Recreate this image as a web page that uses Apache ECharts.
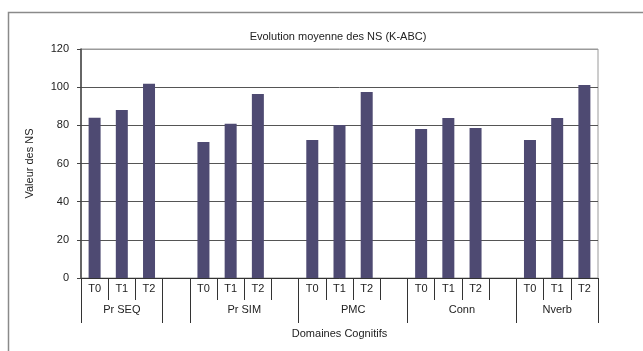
<!DOCTYPE html>
<html>
<head>
<meta charset="utf-8">
<script src="https://cdn.jsdelivr.net/npm/echarts@6/dist/echarts.min.js"></script>
<style>
  html, body { margin: 0; padding: 0; background: #fff; }
  #chart { width: 643px; height: 351px; }
</style>
</head>
<body>
<div id="chart"></div>
<script>
// Domains (outer level) and time points (inner level)
const domains = ['Pr SEQ', 'Pr SIM', 'PMC', 'Conn', 'Nverb'];
const timePoints = ['T0', 'T1', 'T2'];

// Mean NS per domain at T0, T1, T2
const prSeq = [84, 88, 101.8];
const prSim = [71.3, 80.8, 96.4];
const pmc   = [72.3, 80.2, 97.5];
const conn  = [78.1, 83.9, 78.6];
const nverb = [72.3, 83.9, 101.2];

const yTicks = [0, 20, 40, 60, 80, 100, 120];

// Slot layout of the inner axis: each domain gets T0,T1,T2, with a blank slot between groups
const groupSlots = [3, 1, 4, 4, 4, 3];           // widths of outer groups in slots
const groupNames = ['Pr SEQ', '', 'Pr SIM', 'PMC', 'Conn', 'Nverb'];
const domainValues = [prSeq, prSim, pmc, conn, nverb];

const innerCats = [];
const barData = [];
domainValues.forEach((vals, d) => {
  if (d === 1) { innerCats.push(''); barData.push('-'); }
  vals.forEach((v, i) => { innerCats.push(timePoints[i]); barData.push(v); });
  if (d >= 1 && d <= 3) { innerCats.push(''); barData.push('-'); }
});
// innerCats: T0 T1 T2 | '' | T0 T1 T2 '' | T0 T1 T2 '' | T0 T1 T2 '' | T0 T1 T2
const nSlots = innerCats.length;

// Outer axis on half-slot positions (boundaryGap false): labels at group centres, ticks at group edges
const outerCats = new Array(nSlots * 2 + 1).fill('');
const outerTickIdx = new Set([0]);
let pos = 0;
groupSlots.forEach((w, g) => {
  outerCats[pos * 2 + w] = groupNames[g];
  pos += w;
  outerTickIdx.add(pos * 2);
});
const outerLabelIdx = new Set();
outerCats.forEach((c, i) => { if (c) outerLabelIdx.add(i); });

// Gridlines dark, except the top one which belongs to the grey plot frame
const gridColors = yTicks.map((t, i) => (i === yTicks.length - 1 ? '#9a9a9a' : '#555'));

const chart = echarts.init(document.getElementById('chart'), null, { renderer: 'canvas' });
const textStyle = { fontFamily: 'Liberation Sans, Arial, sans-serif', color: '#222', fontSize: 11 };

chart.setOption({
  animation: false,
  textStyle: textStyle,
  title: {
    text: 'Evolution moyenne des NS (K-ABC)',
    left: 333,
    textAlign: 'center',
    top: 26,
    textStyle: { fontFamily: textStyle.fontFamily, fontSize: 11, fontWeight: 'normal', color: '#222' }
  },
  graphic: [{
    type: 'rect',
    shape: { x: 8.5, y: 12.5, width: 700, height: 400 },
    style: { fill: 'none', stroke: '#8a8a8a', lineWidth: 1.5 },
    silent: true
  }],
  grid: {
    left: 81, right: 45, top: 49, bottom: 73,
    show: true, borderColor: '#9a9a9a', borderWidth: 1, backgroundColor: 'transparent'
  },
  xAxis: [{
    type: 'category',
    data: innerCats,
    position: 'bottom',
    boundaryGap: true,
    axisLine: { show: true, lineStyle: { color: '#333', width: 1 } },
    axisTick: { show: true, interval: 0, length: 22, lineStyle: { color: '#333' } },
    axisLabel: { interval: 0, margin: 5, ...textStyle },
    splitLine: { show: false }
  }, {
    type: 'category',
    data: outerCats,
    position: 'bottom',
    boundaryGap: false,
    axisLine: { show: false },
    axisTick: {
      show: true, length: 45, lineStyle: { color: '#333' },
      interval: (i) => outerTickIdx.has(i)
    },
    axisLabel: { margin: 26, ...textStyle, interval: (i) => outerLabelIdx.has(i) },
    splitLine: { show: false },
    name: 'Domaines Cognitifs',
    nameLocation: 'middle',
    nameGap: 50,
    nameTextStyle: textStyle
  }],
  yAxis: {
    type: 'value',
    min: yTicks[0],
    max: yTicks[yTicks.length - 1],
    interval: yTicks[1] - yTicks[0],
    name: 'Valeur des NS',
    nameLocation: 'middle',
    nameRotate: 90,
    nameGap: 46,
    nameTextStyle: textStyle,
    axisLine: { show: true, lineStyle: { color: '#444', width: 1.5 } },
    axisTick: { show: true, length: 4, lineStyle: { color: '#444' } },
    axisLabel: { margin: 12, ...textStyle },
    splitLine: { show: true, lineStyle: { color: gridColors, width: 1 } }
  },
  series: [{
    type: 'bar',
    xAxisIndex: 0,
    data: barData,
    barWidth: 12,
    itemStyle: { color: '#4e4a72' }
  }]
});
</script>
</body>
</html>
